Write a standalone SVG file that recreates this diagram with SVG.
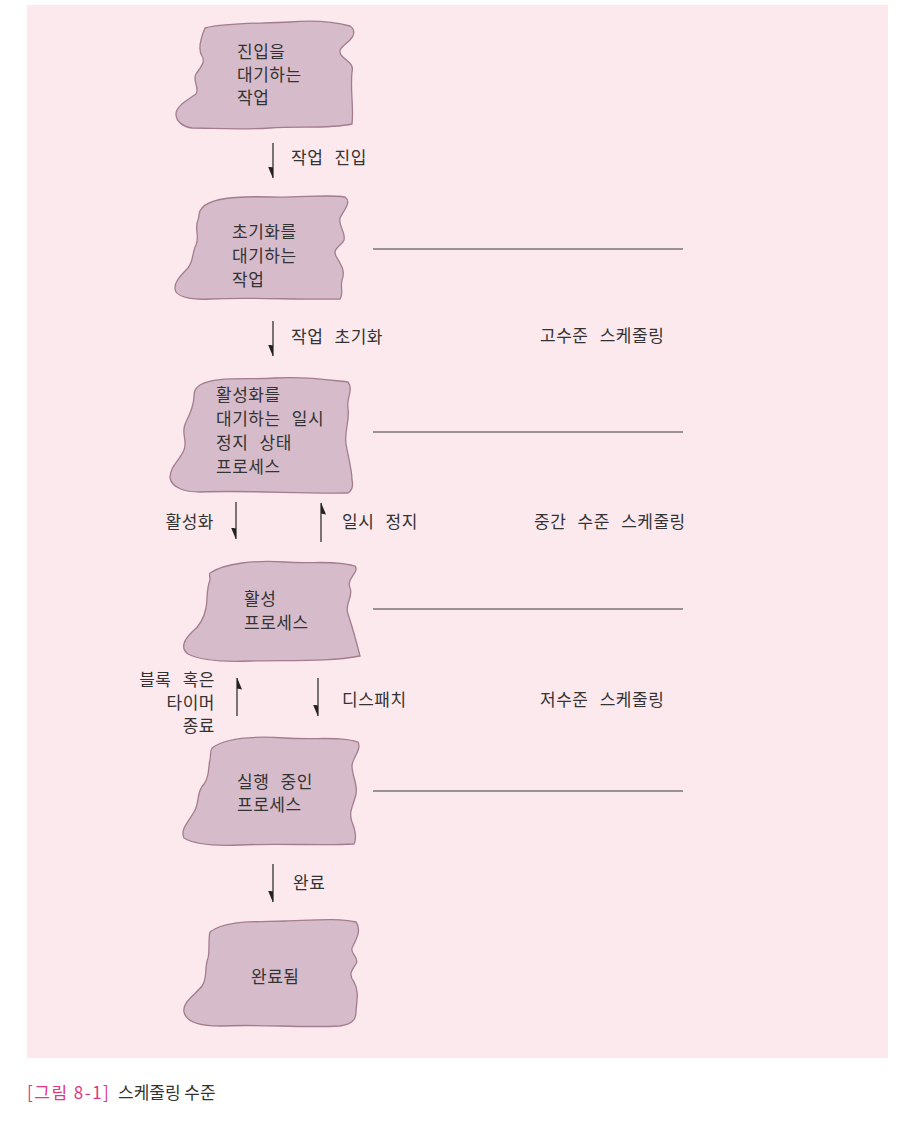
<svg xmlns="http://www.w3.org/2000/svg" width="917" height="1144" viewBox="0 0 917 1144">
<style>
  .blob { fill: #d6bbca; stroke: #a37d8e; stroke-width: 1.3; }
  .t { font-family: "Noto Sans CJK KR", "Noto Sans", sans-serif; font-size: 17px; font-weight: 400; fill: #333333; letter-spacing: 0.5px; word-spacing: 7px; }
  .e { text-anchor: end; }
  .arrow { stroke: #333; stroke-width: 1.3; fill: none; marker-end: url(#half); }
  .lvl { stroke: #3a3a3a; stroke-width: 1.2; fill: none; }
  .cap { font-family: "Noto Sans CJK KR", "Noto Sans", sans-serif; font-size: 17px; font-weight: 400; }
</style>
<defs>
  <marker id="half" viewBox="0 0 12 6" markerWidth="12" markerHeight="6" refX="11.5" refY="1" orient="auto" markerUnits="userSpaceOnUse">
    <path d="M12,1 L1,1 L0,6 Z" fill="#222"/>
  </marker>
</defs>
<rect x="27" y="5" width="861" height="1053" fill="#fbe9ee"/>

<g id="node-entry">
  <path class="blob" d="M205,28 C230,22 260,24 290,22 C315,20 335,22 350,26 C356,30 354,36 350,40 C344,46 336,50 342,56 C348,62 354,64 352,72 C350,90 354,108 352,124 C330,129 300,126 270,128 C240,130 210,128 192,128 C184,127 176,122 176,114 C176,106 188,100 196,94 C200,88 192,80 196,74 C200,68 206,62 202,56 C198,50 200,40 205,28 Z"/>
  <text class="t" x="237" y="58">진입을</text>
  <text class="t" x="237" y="81">대기하는</text>
  <text class="t" x="237" y="104">작업</text>
</g>

<g id="node-init">
  <path class="blob" d="M202,208 C210,198 240,196 270,197 C300,198 325,194 345,197 C352,202 344,210 340,218 C338,226 346,232 344,240 C342,246 332,248 336,256 C340,264 346,270 342,280 C340,288 344,294 340,299 C300,300 250,297 210,299 C195,300 180,298 176,292 C172,284 180,276 188,268 C194,260 192,252 196,245 C200,236 194,228 198,220 C200,214 198,212 202,208 Z"/>
  <text class="t" x="232" y="238">초기화를</text>
  <text class="t" x="232" y="262">대기하는</text>
  <text class="t" x="232" y="286">작업</text>
</g>

<g id="node-suspended">
  <path class="blob" d="M200,385 C215,376 245,380 275,378 C305,376 330,380 348,382 C354,390 346,398 348,408 C350,420 344,432 346,444 C348,456 352,470 352,480 C354,488 350,492 348,493 C300,494 250,490 200,492 C185,492 172,488 170,478 C170,466 180,460 184,450 C188,440 180,432 186,422 C190,414 194,404 194,396 C194,390 196,388 200,385 Z"/>
  <text class="t" x="216" y="401">활성화를</text>
  <text class="t" x="216" y="425">대기하는 일시</text>
  <text class="t" x="216" y="449">정지 상태</text>
  <text class="t" x="216" y="473">프로세스</text>
</g>

<g id="node-active">
  <path class="blob" d="M210,573 C225,563 255,560 285,562 C310,564 335,560 355,566 C360,572 346,578 350,588 C354,596 344,604 348,614 C352,626 356,640 360,656 C330,662 290,660 250,661 C225,662 200,660 188,654 C180,648 184,640 192,632 C200,626 204,618 206,608 C208,598 206,590 210,580 C210,576 209,575 210,573 Z"/>
  <text class="t" x="244" y="605">활성</text>
  <text class="t" x="244" y="629">프로세스</text>
</g>

<g id="node-running">
  <path class="blob" d="M212,748 C225,738 255,736 285,738 C315,740 340,736 358,742 C362,750 352,758 352,766 C352,776 358,784 356,794 C354,804 348,812 352,822 C356,832 356,840 354,844 C320,846 280,843 240,845 C215,846 195,845 184,838 C180,830 188,822 194,812 C200,802 196,792 204,784 C210,776 208,766 210,760 C211,754 210,751 212,748 Z"/>
  <text class="t" x="237" y="788">실행 중인</text>
  <text class="t" x="237" y="811">프로세스</text>
</g>

<g id="node-done">
  <path class="blob" d="M210,932 C225,920 255,922 285,921 C315,920 340,918 356,922 C362,930 356,940 352,948 C350,954 360,958 356,964 C352,970 348,974 354,982 C360,992 356,1004 356,1012 C356,1020 352,1024 340,1026 C300,1028 260,1024 220,1026 C200,1026 186,1022 184,1012 C182,1002 196,994 202,986 C208,978 204,968 208,958 C210,950 208,940 210,932 Z"/>
  <text class="t" x="251" y="983">완료됨</text>
</g>

<g id="connectors">
  <line class="arrow" x1="273" y1="143" x2="273" y2="178"/>
  <line class="arrow" x1="273" y1="321" x2="273" y2="356"/>
  <line class="arrow" x1="236" y1="502" x2="236" y2="539"/>
  <line class="arrow" x1="321" y1="542" x2="321" y2="503"/>
  <line class="arrow" x1="237" y1="716" x2="237" y2="678"/>
  <line class="arrow" x1="318" y1="678" x2="318" y2="716"/>
  <line class="arrow" x1="273" y1="864" x2="273" y2="902"/>
  <line class="lvl" x1="373" y1="249" x2="683" y2="249"/>
  <line class="lvl" x1="373" y1="432" x2="683" y2="432"/>
  <line class="lvl" x1="373" y1="609" x2="683" y2="609"/>
  <line class="lvl" x1="373" y1="791" x2="683" y2="791"/>
</g>

<g id="labels">
  <text class="t" x="291" y="164">작업 진입</text>
  <text class="t" x="291" y="343">작업 초기화</text>
  <text class="t e" x="214" y="528">활성화</text>
  <text class="t" x="342" y="528">일시 정지</text>
  <text class="t e" x="215" y="686">블록 혹은</text>
  <text class="t e" x="215" y="709">타이머</text>
  <text class="t e" x="215" y="732">종료</text>
  <text class="t" x="342" y="706">디스패치</text>
  <text class="t" x="293" y="889">완료</text>
  <text class="t" x="540" y="342">고수준 스케줄링</text>
  <text class="t" x="534" y="528">중간 수준 스케줄링</text>
  <text class="t" x="540" y="706">저수준 스케줄링</text>
</g>

<g id="caption">
  <text class="cap" x="27" y="1099" fill="#e0377f" letter-spacing="1.5">[그림 8-1]</text>
  <text class="cap" x="118" y="1099" fill="#333">스케줄링 수준</text>
</g>
</svg>
